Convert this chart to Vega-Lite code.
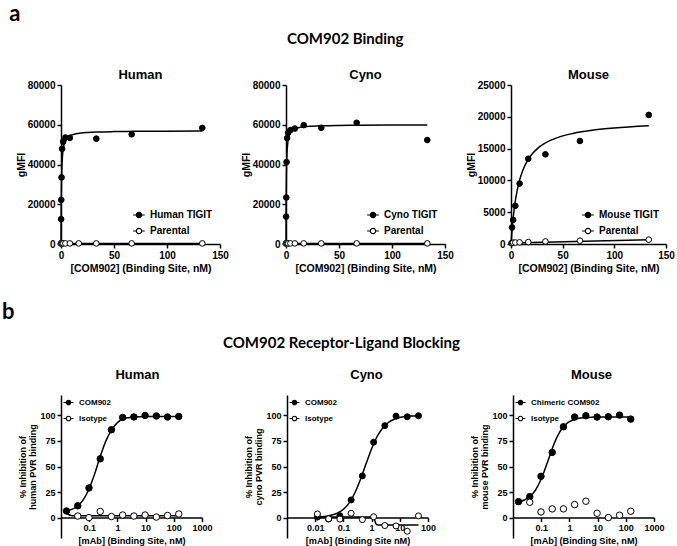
{
  "$schema": "https://vega.github.io/schema/vega-lite/v6.json",
  "padding": {"left": 1, "top": 3, "right": 3, "bottom": 0},
  "background": "white",
  "config": {
    "font": "Liberation Sans",
    "view": {"stroke": null},
    "axis": {"grid": false, "labelFlush": false, "labelOverlap": false, "domainColor": "black", "domainWidth": 1.5, "tickColor": "black", "tickWidth": 1.5, "tickSize": 4, "labelColor": "black", "labelFont": "Liberation Sans", "labelFontWeight": "bold", "labelPadding": 2, "titleFont": "Liberation Sans", "titleFontWeight": "bold", "titleColor": "black"},
    "title": {"color": "black", "font": "Liberation Sans", "fontWeight": "bold", "fontSize": 13, "offset": 5},
    "legend": {"title": null, "labelFont": "Liberation Sans", "labelFontWeight": "bold", "labelColor": "black", "symbolStrokeColor": "black", "symbolStrokeWidth": 1.2, "symbolType": "M-1.1,0L-0.5,0M0.5,0L1.1,0M0.5,0A0.5,0.5,0,1,1,-0.5,0A0.5,0.5,0,1,1,0.5,0Z", "padding": 0}
  },
  "datasets": {
    "aHumanPts": [
      {"x": 0.065, "y": 300, "series": "Parental"}, {"x": 0.13, "y": 300, "series": "Parental"}, {"x": 0.26, "y": 300, "series": "Parental"}, {"x": 0.52, "y": 300, "series": "Parental"}, {"x": 1.04, "y": 300, "series": "Parental"}, {"x": 2.08, "y": 300, "series": "Parental"}, {"x": 4.17, "y": 300, "series": "Parental"}, {"x": 8.33, "y": 300, "series": "Parental"}, {"x": 16.7, "y": 300, "series": "Parental"}, {"x": 33.3, "y": 300, "series": "Parental"}, {"x": 66.7, "y": 300, "series": "Parental"}, {"x": 133.3, "y": 300, "series": "Parental"},
      {"x": 0.13, "y": 12500, "series": "Human TIGIT"}, {"x": 0.26, "y": 22200, "series": "Human TIGIT"}, {"x": 0.52, "y": 33500, "series": "Human TIGIT"}, {"x": 1.04, "y": 47900, "series": "Human TIGIT"}, {"x": 2.08, "y": 51500, "series": "Human TIGIT"}, {"x": 4.17, "y": 53600, "series": "Human TIGIT"}, {"x": 8.33, "y": 53400, "series": "Human TIGIT"}, {"x": 33.3, "y": 53000, "series": "Human TIGIT"}, {"x": 66.7, "y": 55200, "series": "Human TIGIT"}, {"x": 133.3, "y": 58400, "series": "Human TIGIT"}
    ],
    "aHumanFit": [
      {"x": 0.065, "y": 300, "series": "Parental"}, {"x": 133.3, "y": 300, "series": "Parental"},
      {"x": 0, "y": 0, "series": "Human TIGIT"}, {"x": 0.1, "y": 11400, "series": "Human TIGIT"}, {"x": 0.2, "y": 19000, "series": "Human TIGIT"}, {"x": 0.4, "y": 28500, "series": "Human TIGIT"}, {"x": 0.7, "y": 36270, "series": "Human TIGIT"}, {"x": 1, "y": 40710, "series": "Human TIGIT"}, {"x": 1.5, "y": 45000, "series": "Human TIGIT"}, {"x": 2, "y": 47500, "series": "Human TIGIT"}, {"x": 3, "y": 50290, "series": "Human TIGIT"}, {"x": 4, "y": 51820, "series": "Human TIGIT"}, {"x": 6, "y": 53440, "series": "Human TIGIT"}, {"x": 8, "y": 54290, "series": "Human TIGIT"}, {"x": 12, "y": 55160, "series": "Human TIGIT"}, {"x": 16, "y": 55610, "series": "Human TIGIT"}, {"x": 25, "y": 56100, "series": "Human TIGIT"}, {"x": 35, "y": 56360, "series": "Human TIGIT"}, {"x": 50, "y": 56550, "series": "Human TIGIT"}, {"x": 70, "y": 56680, "series": "Human TIGIT"}, {"x": 100, "y": 56770, "series": "Human TIGIT"}, {"x": 133.3, "y": 56830, "series": "Human TIGIT"}
    ],
    "aCynoPts": [
      {"x": 0.065, "y": 300, "series": "Parental"}, {"x": 0.13, "y": 300, "series": "Parental"}, {"x": 0.26, "y": 300, "series": "Parental"}, {"x": 0.52, "y": 300, "series": "Parental"}, {"x": 1.04, "y": 300, "series": "Parental"}, {"x": 2.08, "y": 300, "series": "Parental"}, {"x": 4.17, "y": 300, "series": "Parental"}, {"x": 8.33, "y": 300, "series": "Parental"}, {"x": 16.7, "y": 300, "series": "Parental"}, {"x": 33.3, "y": 300, "series": "Parental"}, {"x": 66.7, "y": 300, "series": "Parental"}, {"x": 133.3, "y": 300, "series": "Parental"},
      {"x": 0.13, "y": 13800, "series": "Cyno TIGIT"}, {"x": 0.26, "y": 23400, "series": "Cyno TIGIT"}, {"x": 0.52, "y": 41200, "series": "Cyno TIGIT"}, {"x": 1.04, "y": 53300, "series": "Cyno TIGIT"}, {"x": 2.08, "y": 56000, "series": "Cyno TIGIT"}, {"x": 4.17, "y": 57300, "series": "Cyno TIGIT"}, {"x": 8.33, "y": 58100, "series": "Cyno TIGIT"}, {"x": 16.7, "y": 59800, "series": "Cyno TIGIT"}, {"x": 33.3, "y": 58500, "series": "Cyno TIGIT"}, {"x": 66.7, "y": 61000, "series": "Cyno TIGIT"}, {"x": 133.3, "y": 52300, "series": "Cyno TIGIT"}
    ],
    "aCynoFit": [
      {"x": 0.065, "y": 300, "series": "Parental"}, {"x": 133.3, "y": 300, "series": "Parental"},
      {"x": 0, "y": 0, "series": "Cyno TIGIT"}, {"x": 0.1, "y": 15000, "series": "Cyno TIGIT"}, {"x": 0.2, "y": 24000, "series": "Cyno TIGIT"}, {"x": 0.4, "y": 34290, "series": "Cyno TIGIT"}, {"x": 0.7, "y": 42000, "series": "Cyno TIGIT"}, {"x": 1, "y": 46150, "series": "Cyno TIGIT"}, {"x": 1.5, "y": 50000, "series": "Cyno TIGIT"}, {"x": 2, "y": 52170, "series": "Cyno TIGIT"}, {"x": 3, "y": 54550, "series": "Cyno TIGIT"}, {"x": 4, "y": 55810, "series": "Cyno TIGIT"}, {"x": 6, "y": 57140, "series": "Cyno TIGIT"}, {"x": 8, "y": 57830, "series": "Cyno TIGIT"}, {"x": 12, "y": 58540, "series": "Cyno TIGIT"}, {"x": 16, "y": 58900, "series": "Cyno TIGIT"}, {"x": 25, "y": 59290, "series": "Cyno TIGIT"}, {"x": 35, "y": 59490, "series": "Cyno TIGIT"}, {"x": 50, "y": 59640, "series": "Cyno TIGIT"}, {"x": 70, "y": 59740, "series": "Cyno TIGIT"}, {"x": 100, "y": 59820, "series": "Cyno TIGIT"}, {"x": 133.3, "y": 59870, "series": "Cyno TIGIT"}
    ],
    "aMousePts": [
      {"x": 0.52, "y": 150, "series": "Parental"}, {"x": 1.04, "y": 160, "series": "Parental"}, {"x": 2.08, "y": 200, "series": "Parental"}, {"x": 4.17, "y": 230, "series": "Parental"}, {"x": 8.33, "y": 260, "series": "Parental"}, {"x": 16.7, "y": 300, "series": "Parental"}, {"x": 33.3, "y": 400, "series": "Parental"}, {"x": 66.7, "y": 520, "series": "Parental"}, {"x": 133.3, "y": 680, "series": "Parental"},
      {"x": 1.04, "y": 2600, "series": "Mouse TIGIT"}, {"x": 2.08, "y": 3800, "series": "Mouse TIGIT"}, {"x": 4.17, "y": 6000, "series": "Mouse TIGIT"}, {"x": 8.33, "y": 9500, "series": "Mouse TIGIT"}, {"x": 16.7, "y": 13400, "series": "Mouse TIGIT"}, {"x": 33.3, "y": 14100, "series": "Mouse TIGIT"}, {"x": 66.7, "y": 16200, "series": "Mouse TIGIT"}, {"x": 133.3, "y": 20300, "series": "Mouse TIGIT"}
    ],
    "aMouseFit": [
      {"x": 0, "y": 150, "series": "Parental"}, {"x": 133.3, "y": 660, "series": "Parental"},
      {"x": 0, "y": 0, "series": "Mouse TIGIT"}, {"x": 1, "y": 2189, "series": "Mouse TIGIT"}, {"x": 2, "y": 3940, "series": "Mouse TIGIT"}, {"x": 3, "y": 5373, "series": "Mouse TIGIT"}, {"x": 4, "y": 6567, "series": "Mouse TIGIT"}, {"x": 6, "y": 8443, "series": "Mouse TIGIT"}, {"x": 8, "y": 9850, "series": "Mouse TIGIT"}, {"x": 10, "y": 10944, "series": "Mouse TIGIT"}, {"x": 13, "y": 12195, "series": "Mouse TIGIT"}, {"x": 16.7, "y": 13320, "series": "Mouse TIGIT"}, {"x": 20, "y": 14071, "series": "Mouse TIGIT"}, {"x": 25, "y": 14924, "series": "Mouse TIGIT"}, {"x": 33.3, "y": 15884, "series": "Mouse TIGIT"}, {"x": 45, "y": 16728, "series": "Mouse TIGIT"}, {"x": 60, "y": 17382, "series": "Mouse TIGIT"}, {"x": 80, "y": 17909, "series": "Mouse TIGIT"}, {"x": 100, "y": 18241, "series": "Mouse TIGIT"}, {"x": 133.3, "y": 18585, "series": "Mouse TIGIT"}
    ],
    "bHumanPts": [
      {"x": 0.0157, "y": 6.5, "series": "COM902"}, {"x": 0.0393, "y": 11.5, "series": "COM902"}, {"x": 0.0983, "y": 29, "series": "COM902"}, {"x": 0.246, "y": 57.5, "series": "COM902"}, {"x": 0.614, "y": 86, "series": "COM902"}, {"x": 1.536, "y": 98, "series": "COM902"}, {"x": 3.84, "y": 98.5, "series": "COM902"}, {"x": 9.6, "y": 100, "series": "COM902"}, {"x": 24, "y": 99.5, "series": "COM902"}, {"x": 60, "y": 98.5, "series": "COM902"}, {"x": 150, "y": 99, "series": "COM902"},
      {"x": 0.0393, "y": 1.5, "series": "Isotype"}, {"x": 0.0983, "y": 0, "series": "Isotype"}, {"x": 0.246, "y": 6, "series": "Isotype"}, {"x": 0.614, "y": 1, "series": "Isotype"}, {"x": 1.536, "y": 2.5, "series": "Isotype"}, {"x": 3.84, "y": 1.5, "series": "Isotype"}, {"x": 9.6, "y": 2.5, "series": "Isotype"}, {"x": 24, "y": 0.5, "series": "Isotype"}, {"x": 60, "y": 2, "series": "Isotype"}, {"x": 150, "y": 3.5, "series": "Isotype"}
    ],
    "bHumanFit": [
      {"x": 0.0157, "y": 4, "series": "Isotype"}, {"x": 0.025, "y": 1.8, "series": "Isotype"}, {"x": 150, "y": 1.8, "series": "Isotype"},
      {"x": 0.01585, "y": 6.6, "series": "COM902"}, {"x": 0.02512, "y": 8.3, "series": "COM902"}, {"x": 0.03981, "y": 11.6, "series": "COM902"}, {"x": 0.0631, "y": 17.9, "series": "COM902"}, {"x": 0.1, "y": 28.4, "series": "COM902"}, {"x": 0.1585, "y": 43.4, "series": "COM902"}, {"x": 0.2512, "y": 60.6, "series": "COM902"}, {"x": 0.3981, "y": 75.6, "series": "COM902"}, {"x": 0.631, "y": 86.1, "series": "COM902"}, {"x": 1, "y": 93, "series": "COM902"}, {"x": 1.585, "y": 96.5, "series": "COM902"}, {"x": 2.512, "y": 97.8, "series": "COM902"}, {"x": 3.981, "y": 98.4, "series": "COM902"}, {"x": 6.31, "y": 98.7, "series": "COM902"}, {"x": 10, "y": 98.9, "series": "COM902"}, {"x": 31.6, "y": 99, "series": "COM902"}, {"x": 150, "y": 99, "series": "COM902"}
    ],
    "bCynoPts": [
      {"x": 0.012, "y": 0.5, "series": "COM902"}, {"x": 0.03, "y": -1.5, "series": "COM902"}, {"x": 0.075, "y": 1.8, "series": "COM902"}, {"x": 0.188, "y": 17.3, "series": "COM902"}, {"x": 0.47, "y": 40.8, "series": "COM902"}, {"x": 1.18, "y": 73.8, "series": "COM902"}, {"x": 2.94, "y": 90, "series": "COM902"}, {"x": 7.36, "y": 99.3, "series": "COM902"}, {"x": 18.4, "y": 98.7, "series": "COM902"}, {"x": 46, "y": 99.7, "series": "COM902"},
      {"x": 0.012, "y": 3.6, "series": "Isotype"}, {"x": 0.03, "y": -1.2, "series": "Isotype"}, {"x": 0.075, "y": -1.5, "series": "Isotype"}, {"x": 0.188, "y": 4.2, "series": "Isotype"}, {"x": 0.47, "y": -2, "series": "Isotype"}, {"x": 1.18, "y": 0.8, "series": "Isotype"}, {"x": 2.94, "y": -7.8, "series": "Isotype"}, {"x": 7.36, "y": -8.2, "series": "Isotype"}, {"x": 18.4, "y": -13.4, "series": "Isotype"}, {"x": 46, "y": 1.6, "series": "Isotype"}
    ],
    "bCynoFit": [
      {"x": 0.012, "y": 0.5, "series": "Isotype"}, {"x": 1.2, "y": 0.5, "series": "Isotype"}, {"x": 1.3, "y": -3, "series": "Isotype"}, {"x": 1.45, "y": -6.5, "series": "Isotype"}, {"x": 1.7, "y": -7.2, "series": "Isotype"}, {"x": 46, "y": -7.2, "series": "Isotype"},
      {"x": 0.012, "y": 0.48, "series": "COM902"}, {"x": 0.01585, "y": 0.7, "series": "COM902"}, {"x": 0.02512, "y": 1.31, "series": "COM902"}, {"x": 0.03981, "y": 2.44, "series": "COM902"}, {"x": 0.0631, "y": 4.49, "series": "COM902"}, {"x": 0.1, "y": 8.1, "series": "COM902"}, {"x": 0.1585, "y": 14.2, "series": "COM902"}, {"x": 0.2512, "y": 23.8, "series": "COM902"}, {"x": 0.3981, "y": 37, "series": "COM902"}, {"x": 0.631, "y": 52.4, "series": "COM902"}, {"x": 1, "y": 67.4, "series": "COM902"}, {"x": 1.585, "y": 79.6, "series": "COM902"}, {"x": 2.512, "y": 88, "series": "COM902"}, {"x": 3.981, "y": 93.2, "series": "COM902"}, {"x": 6.31, "y": 96.3, "series": "COM902"}, {"x": 10, "y": 98, "series": "COM902"}, {"x": 15.85, "y": 98.9, "series": "COM902"}, {"x": 25.12, "y": 99.4, "series": "COM902"}, {"x": 46, "y": 99.7, "series": "COM902"}
    ],
    "bMousePts": [
      {"x": 0.0157, "y": 15.6, "series": "Chimeric COM902"}, {"x": 0.0393, "y": 20.5, "series": "Chimeric COM902"}, {"x": 0.0983, "y": 40.4, "series": "Chimeric COM902"}, {"x": 0.246, "y": 63.8, "series": "Chimeric COM902"}, {"x": 0.614, "y": 88.9, "series": "Chimeric COM902"}, {"x": 1.536, "y": 98.4, "series": "Chimeric COM902"}, {"x": 3.84, "y": 99.7, "series": "Chimeric COM902"}, {"x": 9.6, "y": 98.4, "series": "Chimeric COM902"}, {"x": 24, "y": 98.7, "series": "Chimeric COM902"}, {"x": 60, "y": 100.3, "series": "Chimeric COM902"}, {"x": 150, "y": 96.4, "series": "Chimeric COM902"},
      {"x": 0.0393, "y": 15, "series": "Isotype"}, {"x": 0.0983, "y": 5.5, "series": "Isotype"}, {"x": 0.246, "y": 8.5, "series": "Isotype"}, {"x": 0.614, "y": 8.5, "series": "Isotype"}, {"x": 1.536, "y": 12.7, "series": "Isotype"}, {"x": 3.84, "y": 16, "series": "Isotype"}, {"x": 9.6, "y": 4.2, "series": "Isotype"}, {"x": 24, "y": 0, "series": "Isotype"}, {"x": 60, "y": 2.3, "series": "Isotype"}, {"x": 150, "y": 6.2, "series": "Isotype"}
    ],
    "bMouseFit": [
      {"x": 0.01585, "y": 15.5, "series": "Chimeric COM902"}, {"x": 0.02512, "y": 17.2, "series": "Chimeric COM902"}, {"x": 0.03981, "y": 20.6, "series": "Chimeric COM902"}, {"x": 0.0631, "y": 27, "series": "Chimeric COM902"}, {"x": 0.1, "y": 37.7, "series": "Chimeric COM902"}, {"x": 0.1585, "y": 52.4, "series": "Chimeric COM902"}, {"x": 0.2512, "y": 68.2, "series": "Chimeric COM902"}, {"x": 0.3981, "y": 80.9, "series": "Chimeric COM902"}, {"x": 0.631, "y": 89.3, "series": "Chimeric COM902"}, {"x": 1, "y": 93.9, "series": "Chimeric COM902"}, {"x": 1.585, "y": 96.3, "series": "Chimeric COM902"}, {"x": 2.512, "y": 97.5, "series": "Chimeric COM902"}, {"x": 3.981, "y": 98, "series": "Chimeric COM902"}, {"x": 6.31, "y": 98.3, "series": "Chimeric COM902"}, {"x": 10, "y": 98.5, "series": "Chimeric COM902"}, {"x": 150, "y": 98.5, "series": "Chimeric COM902"}
    ]
  },
  "resolve": {"scale": {"fill": "independent"}, "legend": {"fill": "independent"}},
  "spacing": 27,
  "vconcat": [
    {
      "title": {"text": "a", "anchor": "start", "font": "Lato", "fontSize": 22, "fontWeight": "bold", "offset": 6, "dx": -7},
      "resolve": {"scale": {"fill": "independent"}, "legend": {"fill": "independent"}},
      "vconcat": [
        {
          "title": {"text": "COM902 Binding", "anchor": "middle", "font": "Lato", "fontSize": 15, "fontWeight": "bold", "offset": 22},
          "bounds": "flush",
          "spacing": 66,
          "resolve": {"scale": {"fill": "independent"}, "legend": {"fill": "independent"}},
          "hconcat": [
            {
              "title": {"text": "Human", "offset": -2},
              "width": 159, "height": 159,
              "encoding": {
                "x": {"field": "x", "type": "quantitative", "scale": {"domain": [0, 150], "nice": false}, "axis": {"values": [0, 50, 100, 150], "title": "[COM902] (Binding Site, nM)", "labelFontSize": 10, "titleFontSize": 10.5, "titlePadding": 3}},
                "y": {"field": "y", "type": "quantitative", "scale": {"domain": [0, 80000], "nice": false}, "axis": {"values": [0, 20000, 40000, 60000, 80000], "format": "d", "title": "gMFI", "labelFontSize": 10, "titleFontSize": 10.5, "titlePadding": 1}}
              },
              "layer": [
                {"data": {"name": "aHumanFit"}, "mark": {"type": "line", "color": "black", "strokeWidth": 1.5, "interpolate": "monotone"}, "encoding": {"detail": {"field": "series"}}},
                {"data": {"name": "aHumanPts"}, "mark": {"type": "point", "shape": "circle", "filled": true, "stroke": "black", "strokeWidth": 1, "opacity": 1, "size": 32},
                 "encoding": {"fill": {"field": "series", "type": "nominal", "scale": {"domain": ["Human TIGIT", "Parental"], "range": ["black", "white"]}, "legend": {"orient": "bottom-right", "symbolSize": 112, "labelFontSize": 10, "rowPadding": 4, "offset": 7, "labelOffset": 5}}}}
              ]
            },
            {
              "title": {"text": "Cyno", "offset": -2},
              "width": 159, "height": 159,
              "encoding": {
                "x": {"field": "x", "type": "quantitative", "scale": {"domain": [0, 150], "nice": false}, "axis": {"values": [0, 50, 100, 150], "title": "[COM902] (Binding Site, nM)", "labelFontSize": 10, "titleFontSize": 10.5, "titlePadding": 3}},
                "y": {"field": "y", "type": "quantitative", "scale": {"domain": [0, 80000], "nice": false}, "axis": {"values": [0, 20000, 40000, 60000, 80000], "format": "d", "title": "gMFI", "labelFontSize": 10, "titleFontSize": 10.5, "titlePadding": 1}}
              },
              "layer": [
                {"data": {"name": "aCynoFit"}, "mark": {"type": "line", "color": "black", "strokeWidth": 1.5, "interpolate": "monotone"}, "encoding": {"detail": {"field": "series"}}},
                {"data": {"name": "aCynoPts"}, "mark": {"type": "point", "shape": "circle", "filled": true, "stroke": "black", "strokeWidth": 1, "opacity": 1, "size": 32},
                 "encoding": {"fill": {"field": "series", "type": "nominal", "scale": {"domain": ["Cyno TIGIT", "Parental"], "range": ["black", "white"]}, "legend": {"orient": "bottom-right", "symbolSize": 112, "labelFontSize": 10, "rowPadding": 4, "offset": 7, "labelOffset": 5}}}}
              ]
            },
            {
              "title": {"text": "Mouse", "offset": -2},
              "width": 155, "height": 159,
              "encoding": {
                "x": {"field": "x", "type": "quantitative", "scale": {"domain": [0, 150], "nice": false}, "axis": {"values": [0, 50, 100, 150], "title": "[COM902] (Binding Site, nM)", "labelFontSize": 10, "titleFontSize": 10.5, "titlePadding": 3}},
                "y": {"field": "y", "type": "quantitative", "scale": {"domain": [0, 25000], "nice": false}, "axis": {"values": [0, 5000, 10000, 15000, 20000, 25000], "format": "d", "title": "gMFI", "labelFontSize": 10, "titleFontSize": 10.5, "titlePadding": 1}}
              },
              "layer": [
                {"data": {"name": "aMouseFit"}, "mark": {"type": "line", "color": "black", "strokeWidth": 1.5, "interpolate": "monotone"}, "encoding": {"detail": {"field": "series"}}},
                {"data": {"name": "aMousePts"}, "mark": {"type": "point", "shape": "circle", "filled": true, "stroke": "black", "strokeWidth": 1, "opacity": 1, "size": 32},
                 "encoding": {"fill": {"field": "series", "type": "nominal", "scale": {"domain": ["Mouse TIGIT", "Parental"], "range": ["black", "white"]}, "legend": {"orient": "bottom-right", "symbolSize": 112, "labelFontSize": 10, "rowPadding": 4, "offset": 7, "labelOffset": 5}}}}
              ]
            }
          ]
        }
      ]
    },
    {
      "title": {"text": "b", "anchor": "start", "font": "Lato", "fontSize": 22, "fontWeight": "bold", "offset": 12, "dx": -17},
      "resolve": {"scale": {"fill": "independent"}, "legend": {"fill": "independent"}},
      "vconcat": [
        {
          "title": {"text": "COM902 Receptor-Ligand Blocking", "anchor": "middle", "font": "Lato", "fontSize": 15, "fontWeight": "bold", "offset": 18},
          "bounds": "flush",
          "spacing": 85,
          "resolve": {"scale": {"fill": "independent"}, "legend": {"fill": "independent"}},
          "hconcat": [
            {
              "title": {"text": "Human", "offset": 13, "dx": 6},
              "width": 141, "height": 143,
              "encoding": {
                "x": {"field": "x", "type": "quantitative", "scale": {"type": "log", "domain": [0.01, 1000], "nice": false}, "axis": {"values": [0.1, 1, 10, 100, 1000], "format": "~g", "offset": -20.4, "title": "[mAb] (Binding Site, nM)", "labelFontSize": 9, "titleFontSize": 9.2, "titlePadding": 4}},
                "y": {"field": "y", "type": "quantitative", "scale": {"domain": [-20, 120], "nice": false}, "axis": {"values": [0, 25, 50, 75, 100], "title": ["% Inhibition of", "human PVR binding"], "labelFontSize": 9, "titleFontSize": 9, "titleLineHeight": 10, "titlePadding": 2}}
              },
              "layer": [
                {"data": {"name": "bHumanFit"}, "mark": {"type": "line", "color": "black", "strokeWidth": 1.5, "interpolate": "monotone"}, "encoding": {"detail": {"field": "series"}}},
                {"data": {"name": "bHumanPts"}, "mark": {"type": "point", "shape": "circle", "filled": true, "stroke": "black", "strokeWidth": 1, "opacity": 1, "size": 42},
                 "encoding": {"fill": {"field": "series", "type": "nominal", "scale": {"domain": ["COM902", "Isotype"], "range": ["black", "white"]}, "legend": {"orient": "top-left", "symbolSize": 81, "labelFontSize": 8, "rowPadding": 5, "offset": 2, "labelOffset": 5}}}}
              ]
            },
            {
              "title": {"text": "Cyno", "offset": 13, "dx": 9},
              "width": 141, "height": 143,
              "encoding": {
                "x": {"field": "x", "type": "quantitative", "scale": {"type": "log", "domain": [0.001, 100], "nice": false}, "axis": {"values": [0.01, 0.1, 1, 10, 100], "format": "~g", "offset": -20.4, "title": "[mAb] (Binding Site nM)", "labelFontSize": 9, "titleFontSize": 9.2, "titlePadding": 4}},
                "y": {"field": "y", "type": "quantitative", "scale": {"domain": [-20, 120], "nice": false}, "axis": {"values": [0, 25, 50, 75, 100], "title": ["% Inhibition of", "cyno PVR binding"], "labelFontSize": 9, "titleFontSize": 9, "titleLineHeight": 10, "titlePadding": 2}}
              },
              "layer": [
                {"data": {"name": "bCynoFit"}, "mark": {"type": "line", "color": "black", "strokeWidth": 1.5, "interpolate": "monotone"}, "encoding": {"detail": {"field": "series"}}},
                {"data": {"name": "bCynoPts"}, "mark": {"type": "point", "shape": "circle", "filled": true, "stroke": "black", "strokeWidth": 1, "opacity": 1, "size": 36},
                 "encoding": {"fill": {"field": "series", "type": "nominal", "scale": {"domain": ["COM902", "Isotype"], "range": ["black", "white"]}, "legend": {"orient": "top-left", "symbolSize": 81, "labelFontSize": 8, "rowPadding": 5, "offset": 2, "labelOffset": 5}}}}
              ]
            },
            {
              "title": {"text": "Mouse", "offset": 13, "dx": 8},
              "width": 141, "height": 143,
              "encoding": {
                "x": {"field": "x", "type": "quantitative", "scale": {"type": "log", "domain": [0.01, 1000], "nice": false}, "axis": {"values": [0.1, 1, 10, 100, 1000], "format": "~g", "offset": -20.4, "title": "[mAb] (Binding Site, nM)", "labelFontSize": 9, "titleFontSize": 9.2, "titlePadding": 4}},
                "y": {"field": "y", "type": "quantitative", "scale": {"domain": [-20, 120], "nice": false}, "axis": {"values": [0, 25, 50, 75, 100], "title": ["% Inhibition of", "mouse PVR binding"], "labelFontSize": 9, "titleFontSize": 9, "titleLineHeight": 10, "titlePadding": 2}}
              },
              "layer": [
                {"data": {"name": "bMouseFit"}, "mark": {"type": "line", "color": "black", "strokeWidth": 1.5, "interpolate": "monotone"}, "encoding": {"detail": {"field": "series"}}},
                {"data": {"name": "bMousePts"}, "mark": {"type": "point", "shape": "circle", "filled": true, "stroke": "black", "strokeWidth": 1, "opacity": 1, "size": 42},
                 "encoding": {"fill": {"field": "series", "type": "nominal", "scale": {"domain": ["Chimeric COM902", "Isotype"], "range": ["black", "white"]}, "legend": {"orient": "top-left", "symbolSize": 81, "labelFontSize": 8, "rowPadding": 5, "offset": 2, "labelOffset": 5}}}}
              ]
            }
          ]
        }
      ]
    }
  ]
}
